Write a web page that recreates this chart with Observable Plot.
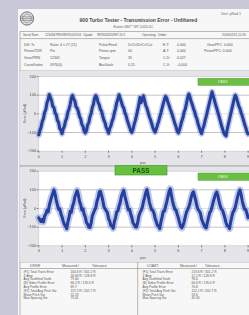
<!DOCTYPE html>
<html><head><meta charset="utf-8">
<script src="https://cdn.jsdelivr.net/npm/d3@7"></script>
<script src="https://cdn.jsdelivr.net/npm/@observablehq/plot@0.6"></script>
<style>
html,body{margin:0;padding:0;}
body{width:249px;height:315px;overflow:hidden;background:#c9c8d9;position:relative;font-family:"Liberation Sans",Arial,sans-serif;}
#wrap{position:absolute;left:0;top:0;width:249px;height:315px;filter:blur(0.3px);}
.abs{position:absolute;left:0;top:0;}
#c1{position:absolute;left:20px;top:71px;}
#c2{position:absolute;left:20px;top:167px;}
svg text{font-family:"Liberation Sans",Arial,sans-serif;}
</style></head>
<body><div id="wrap">
<svg class="abs" width="249" height="315" viewBox="0 0 249 315">
  <rect x="18" y="9" width="240" height="310" fill="#f7f7f8"/>
  <circle cx="27" cy="18.5" r="6.6" fill="#e2e2e2" stroke="#6d6d6d" stroke-width="1"/>
  <circle cx="27" cy="18.5" r="4.3" fill="none" stroke="#8a8a8a" stroke-width="0.7"/>
  <line x1="21.5" y1="16.8" x2="32.5" y2="16.8" stroke="#777" stroke-width="0.6"/>
  <line x1="21" y1="18.6" x2="33" y2="18.6" stroke="#777" stroke-width="0.6"/>
  <line x1="21.5" y1="20.4" x2="32.5" y2="20.4" stroke="#777" stroke-width="0.6"/>
  <g fill="#4a4a4a">
    <text x="138.4" y="22" font-size="5" font-weight="bold" text-anchor="middle">900 Turbo Tester - Transmission Error - Unfiltered</text>
    <text x="133.5" y="27.6" font-size="3.6" text-anchor="middle" fill="#666">Eaton 080** SP-1020.0C</text>
    <text x="221" y="15" font-size="3.6" fill="#666">Unit: µRad 1</text>
  </g>
  <g stroke="#8a8a8a" stroke-width="0.6">
    <line x1="20" y1="31.5" x2="249" y2="31.5"/>
    <line x1="20" y1="38.6" x2="249" y2="38.6"/>
    <line x1="20" y1="71" x2="249" y2="71"/>
    <line x1="20" y1="165.4" x2="249" y2="165.4"/>
    <line x1="20" y1="166.8" x2="249" y2="166.8"/>
    <line x1="20" y1="262" x2="249" y2="262"/>
    <line x1="20" y1="268.5" x2="249" y2="268.5"/>
    <line x1="20" y1="31.5" x2="20" y2="315"/>
    <line x1="137.7" y1="262" x2="137.7" y2="315"/>
  </g>
  <g font-size="3.1" fill="#555">
    <text x="23" y="36.3">Serial Num</text>
    <text x="45" y="36.3">123456789/0987654/2016</text>
    <text x="83.5" y="36.3">Dyade</text>
    <text x="97" y="36.3">98765432/0987.11/1</text>
    <text x="142" y="36.3">Operating : Under</text>
    <text x="222" y="36.3">2016/02/11 10:35</text>
  </g>
  <g font-size="3.5" fill="#555">
    <text x="24" y="45.5">Diff. Ts</text>
    <text x="24" y="52">Pinion/TDR</text>
    <text x="24" y="59">Gear/PRN</text>
    <text x="24" y="66">Count/Index</text>
    <text x="50" y="45.5">Ratio: 4 x 27 (11)</text>
    <text x="50" y="52">Pin</text>
    <text x="50" y="59">12345</text>
    <text x="50" y="66">0976(0)</text>
    <text x="99" y="45.5">Pulse/Feed</text>
    <text x="99" y="52">Pinion rpm</text>
    <text x="99" y="59">Torque</text>
    <text x="99" y="66">Backlash</text>
    <text x="128" y="45.5">Dr/Cr/Dr/Cr/Cut</text>
    <text x="128" y="52">40</text>
    <text x="128" y="59">35</text>
    <text x="128" y="66">0.15</text>
    <text x="163" y="45.5">E-T:</text>
    <text x="163" y="52">A-T:</text>
    <text x="163" y="59">C-D:</text>
    <text x="163" y="66">C-V:</text>
    <text x="177" y="45.5">0.000</text>
    <text x="177" y="52">0.000</text>
    <text x="177" y="59">0.027</text>
    <text x="177" y="66">-0.004</text>
    <text x="207" y="45.5">GearPPC: 0.000</text>
    <text x="204" y="52">PinionPPC: 0.000</text>
  </g>
  <g font-size="3.4" fill="#555">
    <text x="30" y="266.6">DRIVE</text>
    <text x="62" y="266.6">Measured /</text>
    <text x="92" y="266.6">Tolerance</text>
    <text x="146.7" y="266.6">COAST</text>
    <text x="180" y="266.6">Measured /</text>
    <text x="205" y="266.6">Tolerance</text>
  </g>
  <g font-size="3.2" fill="#555">
    <text x="23.5" y="272.8">(F1) Total Trans Error</text>
    <text x="23.5" y="276.6">Z Amp</text>
    <text x="23.5" y="280.4">Avg Toothfind Tooth</text>
    <text x="23.5" y="284.2">(B) Sides Profile Error</text>
    <text x="23.5" y="288">Avg Profile Error</text>
    <text x="23.5" y="291.8">(F2) Total Avg Pitch Var</text>
    <text x="23.5" y="295.6">Mean Pitch Var</text>
    <text x="23.5" y="299.4">Max Spacing Var</text>
    <text x="70.5" y="272.8">244.6 R  /  301.2 R</text>
    <text x="70.5" y="276.6">26.69 R  /  128.8 R</text>
    <text x="70.5" y="280.4">79.40</text>
    <text x="70.5" y="284.2">66.2 R  /  176.6 R</text>
    <text x="70.5" y="288">69.7</text>
    <text x="70.5" y="291.8">157.5 R  /  202.7 R</text>
    <text x="70.5" y="295.6">52.23</text>
    <text x="70.5" y="299.4">79.41</text>
    <text x="142.5" y="272.8">(F1) Total Trans Error</text>
    <text x="142.5" y="276.6">Z Amp</text>
    <text x="142.5" y="280.4">Avg Toothfind Tooth</text>
    <text x="142.5" y="284.2">(B) Sides Profile Error</text>
    <text x="142.5" y="288">Avg Profile Error</text>
    <text x="142.5" y="291.8">(F2) Total Avg Pitch Var</text>
    <text x="142.5" y="295.6">Mean Pitch Var</text>
    <text x="142.5" y="299.4">Max Spacing Var</text>
    <text x="191.5" y="272.8">213.6 R  /  301.2 R</text>
    <text x="191.5" y="276.6">17.2 R  /  128.8 R</text>
    <text x="191.5" y="280.4">78.0</text>
    <text x="191.5" y="284.2">64.6 R  /  176.6 R</text>
    <text x="191.5" y="288">70.8</text>
    <text x="191.5" y="291.8">152.1 R  /  202.7 R</text>
    <text x="191.5" y="295.6">23.6</text>
    <text x="191.5" y="299.4">45.30</text>
  </g>
</svg>
<div id="c1"></div>
<div id="c2"></div>
<svg class="abs" width="249" height="315" viewBox="0 0 249 315" style="pointer-events:none">
  <g font-size="3.4" fill="#555">
    <text transform="translate(25.5,113.5) rotate(-90)" text-anchor="middle">Error (µRad)</text>
    <text transform="translate(25.5,208) rotate(-90)" text-anchor="middle">Error (µRad)</text>
    <text x="143" y="163.6" text-anchor="middle">pos</text>
    <text x="143" y="259" text-anchor="middle">pos</text>
  </g>
  <rect x="198" y="78.3" width="56" height="7" fill="#6cbf45" stroke="#4a9a30" stroke-width="0.5"/>
  <text x="223" y="83.2" font-size="3.6" text-anchor="middle" fill="#e8f5e0">PASS</text>
  <rect x="198" y="173" width="56" height="7.3" fill="#6cbf45" stroke="#4a9a30" stroke-width="0.5"/>
  <text x="223" y="178" font-size="3.6" text-anchor="middle" fill="#e8f5e0">PASS</text>
  <rect x="115" y="165.7" width="52" height="9.3" fill="#66c23e" stroke="#3f8f2a" stroke-width="0.6"/>
  <text x="141" y="172.6" font-size="6.4" font-weight="bold" text-anchor="middle" fill="#1e4d12">PASS</text>
</svg>
</div>
<script>
// Transmission error samples (µRad), one every 0.05 of position, starting at 0
const sampleStep = 0.05;
const driveTE = [
-112,-88,-70,-40,-25,8,22,58,75,104,88,70,40,35,5,-5,-35,-45,-78,-88,
-106,-80,-66,-38,-22,10,26,50,84,99,80,68,38,30,12,-14,-26,-55,-66,-92,
-102,-90,-58,-48,-15,2,34,52,85,98,86,60,48,24,14,-12,-34,-48,-74,-86,
-104,-78,-64,-40,-24,6,28,60,78,102,82,64,42,32,6,-8,-32,-52,-70,-90,
-100,-84,-56,-36,-10,20,48,88,60,80,96,70,44,30,8,-14,-30,-50,-72,-88,
-98,-82,-60,-42,-18,4,30,54,76,94,84,62,46,26,10,-10,-30,-52,-68,-92,
-102,-86,-62,-38,-20,10,26,56,86,106,90,66,50,28,12,-12,-28,-54,-72,-94,
-106,-80,-64,-36,-14,14,40,66,92,118,96,74,50,30,8,-14,-36,-60,-80,-100,
-112,-118,-84,-56,-30,-2,26,52,80,100,86,64,42,28,6,-12,-34,-56,-74,-96,
-108
];
const coastTE = [
-50,-62,-70,-58,-72,-40,-30,-10,-18,15,40,62,80,100,78,45,20,-5,-2,-28,-45,-68,-85,-95,-108,
-72,-48,-15,-20,12,30,62,80,96,74,38,20,-8,-2,-30,-46,-75,-84,-100,-102,
-78,-40,-24,-8,4,38,56,88,92,70,44,10,-2,-12,-22,-54,-68,-92,-92,-106,
-70,-50,-18,-14,12,32,64,82,97,68,42,18,-8,-4,-28,-48,-76,-86,-98,-100,
-76,-42,-22,-10,6,36,58,86,102,74,36,14,-6,-10,-24,-52,-70,-90,-94,-108,
-72,-46,-16,-14,10,34,62,90,106,72,40,16,-4,-8,-30,-50,-74,-96,-104,-92,
-70,-44,-20,-6,8,30,58,80,90,66,42,12,-6,-14,-26,-56,-72,-88,-100,-104,
-74,-48,-22,-12,10,36,56,78,88,70,38,14,-2,-10,-28,-50,-76,-92,-96,-108,
-72,-44,-20,-10,8,36,64,86,100,74,40,16,-4,-6,-26,-50
];
const xTicks = [0,1,2,3,4,5,6,7,8,9];
const yTicks = [-200,-100,0,100,200];
const gridLines = [-100,100];
const zeroLine = [0];

function makeChart(values, h, mt, mb, fuzz){
  const rows = values.map((v,i)=>({pos: i*sampleStep, te: v}));
  return Plot.plot({
    width: 229, height: h,
    marginLeft: 18.3, marginRight: 0, marginTop: mt, marginBottom: mb,
    x: {domain:[0,9.06]},
    y: {domain:[-200,200]},
    style: {background:"#e5e5e9", fontFamily:"Liberation Sans, Arial, sans-serif", fontSize:"4px", color:"#555", overflow:"visible"},
    marks: [
      Plot.frame({fill:"#ffffff", stroke:"#c4c4c8", strokeWidth:0.6}),
      Plot.ruleY(gridLines, {stroke:"#9a9a9a", strokeWidth:0.6}),
      Plot.ruleY(zeroLine, {stroke:"#c8c8c8", strokeWidth:0.5}),
      Plot.line(rows, {x:"pos", y:"te", stroke:"#6f86d2", strokeWidth:fuzz, strokeOpacity:0.45}),
      Plot.line(rows, {x:"pos", y:"te", stroke:"#243f9c", strokeWidth:3}),
      Plot.axisX({ticks:xTicks, tickSize:2, tickPadding:1.5, fontSize:4, label:null, stroke:"#777"}),
      Plot.axisY({ticks:yTicks, tickSize:1.5, tickPadding:1, fontSize:4, label:null, stroke:"#777"})
    ]
  });
}
document.getElementById("c1").append(makeChart(driveTE, 94, 5, 14.3, 6));
document.getElementById("c2").append(makeChart(coastTE, 95, 3.7, 16.7, 7));
</script>
</body></html>
